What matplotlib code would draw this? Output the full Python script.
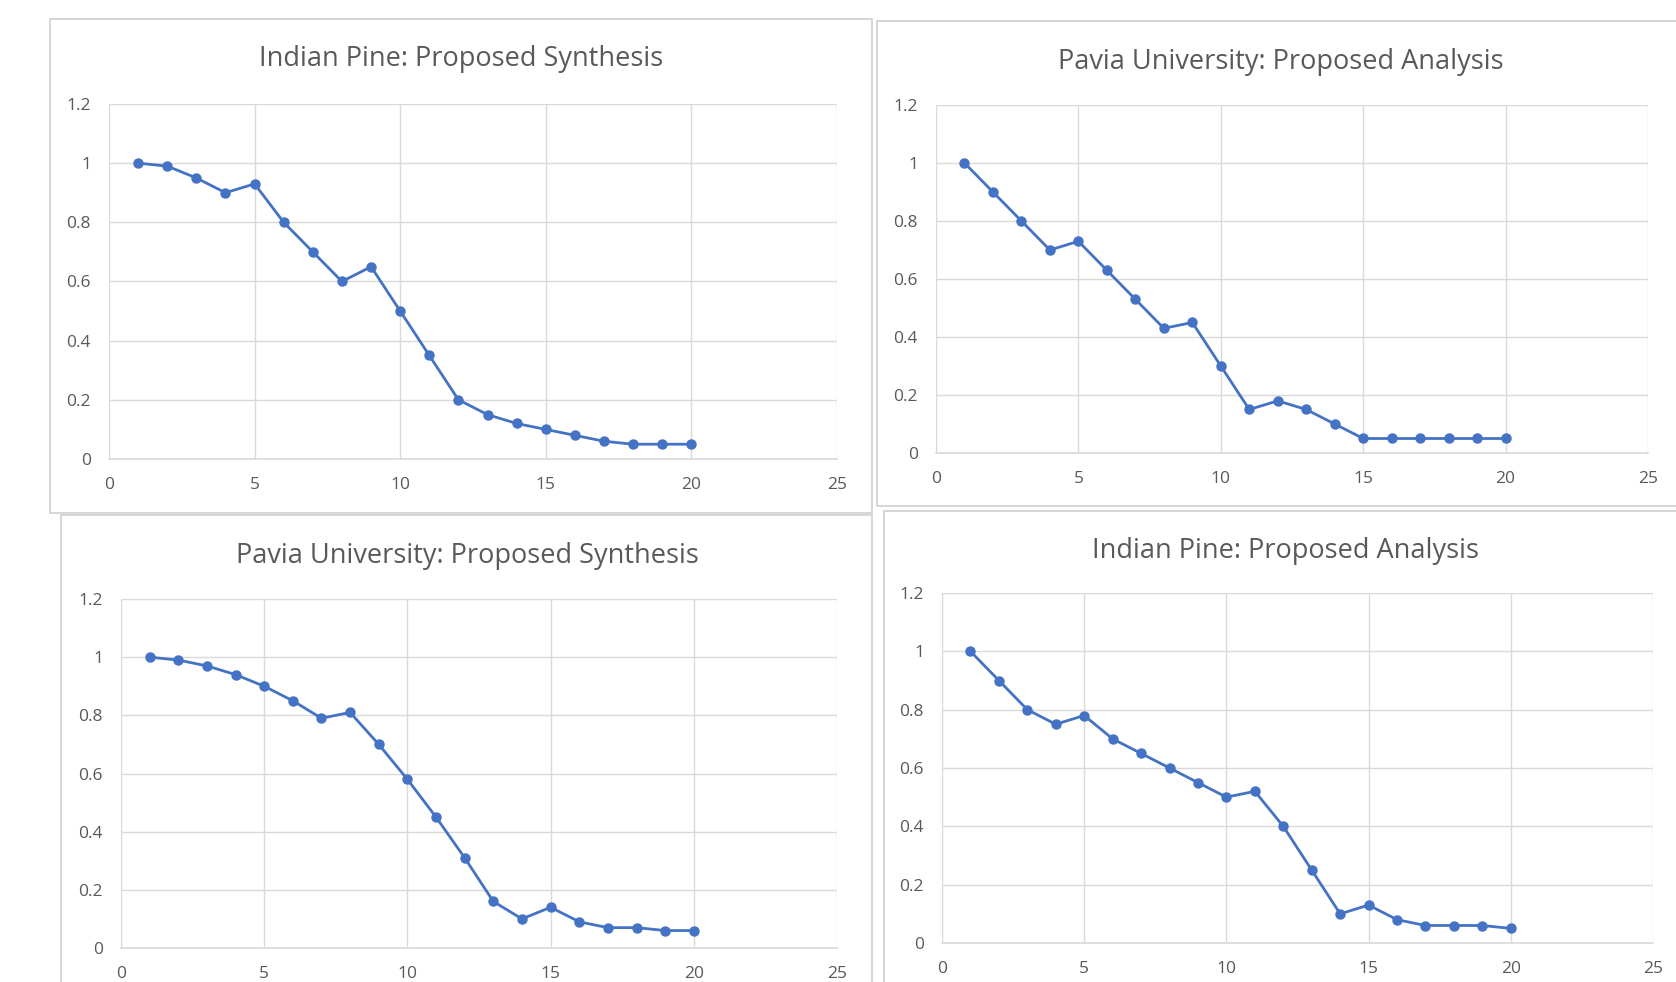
import matplotlib
matplotlib.use("Agg")
import matplotlib.pyplot as plt
from matplotlib.patches import Rectangle

W, H = 1676, 982

x_vals = list(range(1, 21))
titles = [
    "Indian Pine: Proposed Synthesis",
    "Pavia University: Proposed Analysis",
    "Pavia University: Proposed Synthesis",
    "Indian Pine: Proposed Analysis",
]
indian_synthesis = [1.00, 0.99, 0.95, 0.90, 0.93, 0.80, 0.70, 0.60, 0.65, 0.50,
                    0.35, 0.20, 0.15, 0.12, 0.10, 0.08, 0.06, 0.05, 0.05, 0.05]
pavia_analysis = [1.00, 0.90, 0.80, 0.70, 0.73, 0.63, 0.53, 0.43, 0.45, 0.30,
                  0.15, 0.18, 0.15, 0.10, 0.05, 0.05, 0.05, 0.05, 0.05, 0.05]
pavia_synthesis = [1.00, 0.99, 0.97, 0.94, 0.90, 0.85, 0.79, 0.81, 0.70, 0.58,
                   0.45, 0.31, 0.16, 0.10, 0.14, 0.09, 0.07, 0.07, 0.06, 0.06]
indian_analysis = [1.00, 0.90, 0.80, 0.75, 0.78, 0.70, 0.65, 0.60, 0.55, 0.50,
                   0.52, 0.40, 0.25, 0.10, 0.13, 0.08, 0.06, 0.06, 0.06, 0.05]
series = [indian_synthesis, pavia_analysis, pavia_synthesis, indian_analysis]
x_ticks = [0, 5, 10, 15, 20, 25]
y_ticks = [0, 0.2, 0.4, 0.6, 0.8, 1.0, 1.2]
y_tick_labels = ["0", "0.2", "0.4", "0.6", "0.8", "1", "1.2"]

# layout in pixels: (box x0, y0, x1, y1), (plot left, top, right, bottom), (title x, title y)
layouts = [
    ((50, 19, 872, 513), (109, 104, 837, 459), (461, 59)),
    ((877, 21, 1680, 506), (936, 105, 1648, 453), (1281, 62)),
    ((61, 515, 872, 990), (121, 599, 837, 948), (467, 556)),
    ((884, 511, 1680, 990), (942, 593, 1653, 943), (1285, 551)),
]

LINE = "#4472C4"
GRID = "#D9D9D9"
TXT = "#595959"
FONT = ["Open Sans", "DejaVu Sans"]

fig = plt.figure(figsize=(W / 100, H / 100), dpi=100)
fig.patch.set_facecolor("white")

for (box, pa, (tx, ty)), title, vals in zip(layouts, titles, series):
    bx0, by0, bx1, by1 = box
    fig.patches.append(Rectangle((bx0 / W, 1 - by1 / H), (bx1 - bx0) / W, (by1 - by0) / H,
                                 transform=fig.transFigure, fill=False,
                                 edgecolor="#D0D0D0", linewidth=1.2, zorder=0))
    l, t, r, b = pa
    ax = fig.add_axes([l / W, 1 - b / H, (r - l) / W, (b - t) / H])
    ax.plot(x_vals, vals, color=LINE, linewidth=2.0, marker="o", markersize=6.5,
            markerfacecolor=LINE, markeredgecolor=LINE, zorder=3, clip_on=False)
    ax.set_xlim(0, 25)
    ax.set_ylim(0, 1.2)
    ax.set_xticks(x_ticks)
    ax.set_xticklabels([str(v) for v in x_ticks])
    ax.set_yticks(y_ticks)
    ax.set_yticklabels(y_tick_labels)
    ax.grid(True, color=GRID, linewidth=1.0)
    ax.set_axisbelow(True)
    for s in ["top", "right", "left"]:
        ax.spines[s].set_visible(False)
    ax.spines["bottom"].set_color(GRID)
    ax.spines["bottom"].set_linewidth(1.2)
    ax.tick_params(axis="both", length=0, colors=TXT, labelsize=12.5)
    ax.tick_params(axis="x", pad=13)
    ax.tick_params(axis="y", pad=13)
    for lab in ax.get_xticklabels() + ax.get_yticklabels():
        lab.set_family(FONT)
    fig.text(tx / W, 1 - ty / H, title, ha="center", va="center", fontsize=19.5,
             color=TXT, family=FONT)

fig.savefig("out.png", dpi=100, facecolor="white")
